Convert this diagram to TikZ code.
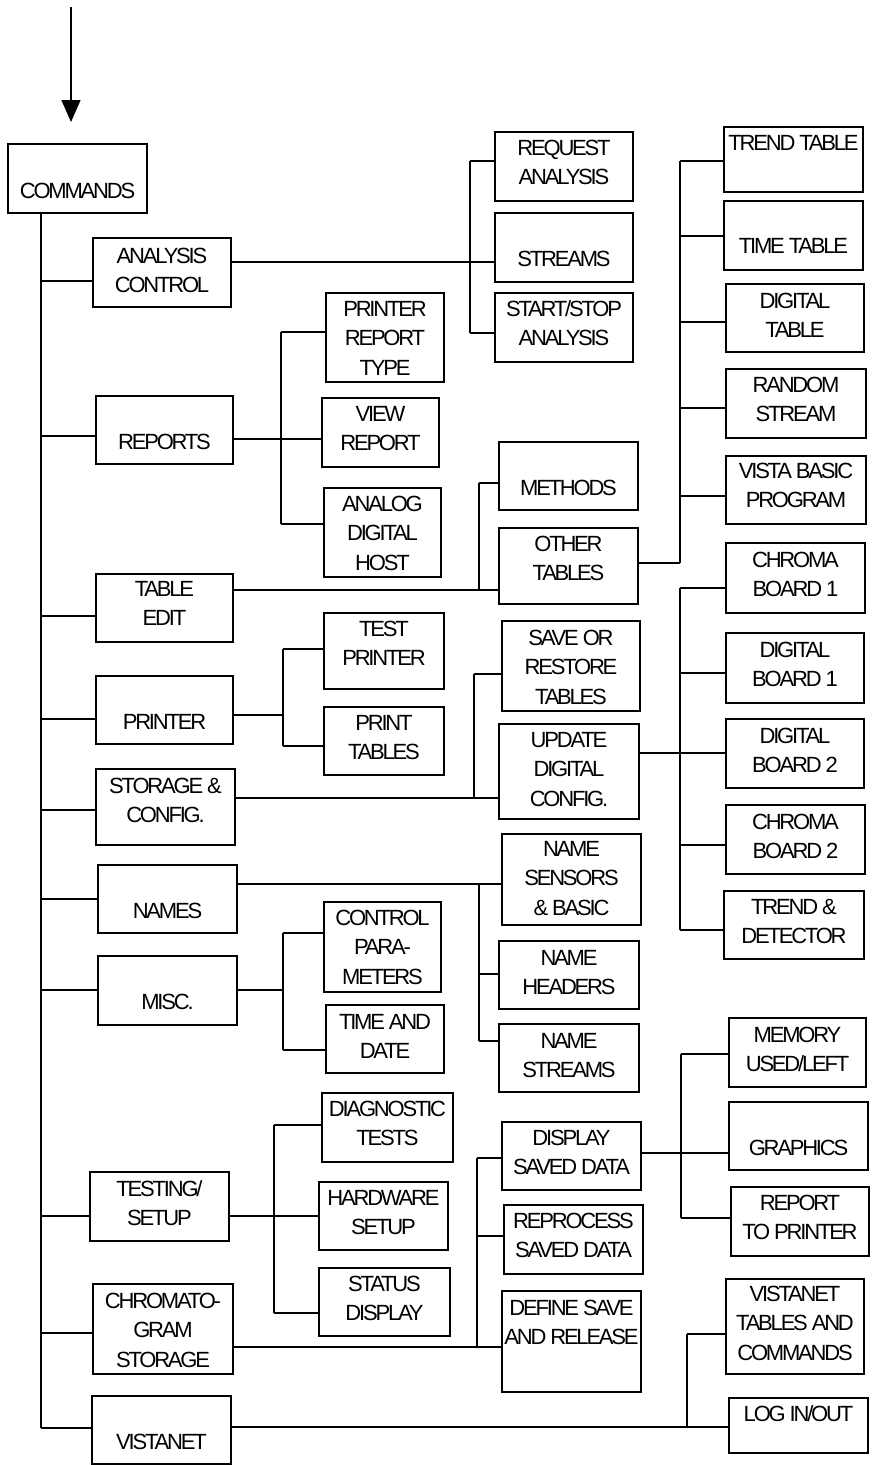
\documentclass[tikz,border=0pt]{standalone}
\usepackage{fontspec}
\setmainfont{Liberation Sans}[LetterSpace=-10]
\usetikzlibrary{fit,arrows.meta}
\tikzset{
  box/.style={draw, line width=1.5pt, inner sep=0pt},
  txt/.style={anchor=base, inner sep=0pt, font=\fontsize{22}{26}\selectfont},
  conn/.style={line width=1.5pt},
}
\newcommand\mybox[7]{%
  \path (#2,#3) coordinate (#1-nw) (#4,#5) coordinate (#1-se);
  \node[box, fit=(#1-nw)(#1-se)] (#1) {};
  \foreach \t [count=\i] in {#7} {
    \node[txt] (#1-l\i) at ({(#2+#4)/2}, {#6+8+(\i-1)*29.5}) {\t};
  }%
}
\newcommand\mytree[6]{%
  \coordinate (#1-vt) at (#2,#4);
  \coordinate (#1-vb) at (#2,#5);
  \coordinate (#1-pj) at (#2,#3);
  \draw[conn] (#1-vt) -- (#1-vb);
  \draw[conn] (#1.east |- #1-pj) -- (#1-pj);
  \foreach \c/\y in {#6} {
    \coordinate (#1-\c-j) at (#2,\y);
    \draw[conn] (#1-\c-j) -- (#1-\c-j -| \c.west);
  }%
}
\begin{document}
\begin{tikzpicture}[x=1pt,y=-1pt]
\useasboundingbox (0,0) rectangle (874,1465);
% level 1
\mybox{cmd}{8}{144}{147}{213}{190}{COMMANDS}
\mybox{ac}{93}{238}{231}{307}{255}{ANALYSIS,CONTROL}
\mybox{rep}{96}{396}{233}{464}{441}{REPORTS}
\mybox{te}{96}{574}{233}{642}{588}{TABLE,EDIT}
\mybox{pr}{96}{676}{233}{744}{721}{PRINTER}
\mybox{sc}{96}{769}{235}{845}{785}{STORAGE \&,CONFIG.}
\mybox{nm}{98}{865}{237}{933}{910}{NAMES}
\mybox{misc}{98}{956}{237}{1025}{1001}{MISC.}
\mybox{ts}{90}{1172}{229}{1241}{1188}{TESTING/,SETUP}
\mybox{cg}{93}{1284}{233}{1374}{1300}{CHROMATO-,GRAM,STORAGE}
\mybox{vn}{92}{1396}{231}{1464}{1441}{VISTANET}
% level 2
\mybox{ra}{495}{132}{633}{201}{147}{REQUEST,ANALYSIS}
\mybox{st}{495}{213}{633}{282}{258}{STREAMS}
\mybox{ss}{495}{293}{633}{362}{308}{START/STOP,ANALYSIS}
\mybox{prt}{326}{293}{444}{382}{308}{PRINTER,REPORT,TYPE}
\mybox{vr}{322}{398}{439}{467}{413}{VIEW,REPORT}
\mybox{adh}{324}{488}{441}{577}{503}{ANALOG,DIGITAL,HOST}
\mybox{meth}{499}{442}{638}{510}{487}{METHODS}
\mybox{ot}{499}{528}{638}{604}{543}{OTHER,TABLES}
\mybox{tp}{324}{613}{444}{689}{628}{TEST,PRINTER}
\mybox{ptab}{324}{707}{444}{775}{722}{PRINT,TABLES}
\mybox{sor}{502}{621}{640}{711}{637}{SAVE OR,RESTORE,TABLES}
\mybox{udc}{499}{724}{639}{819}{739}{UPDATE,DIGITAL,CONFIG.}
\mybox{nsb}{502}{834}{641}{925}{848}{NAME,SENSORS,\& BASIC}
\mybox{nh}{499}{941}{639}{1009}{957}{NAME,HEADERS}
\mybox{ns}{499}{1024}{639}{1092}{1040}{NAME,STREAMS}
\mybox{cp}{324}{902}{441}{992}{917}{CONTROL,PARA-,METERS}
\mybox{tad}{326}{1005}{444}{1073}{1021}{TIME AND,DATE}
\mybox{dt}{322}{1093}{453}{1162}{1108}{DIAGNOSTIC,TESTS}
\mybox{hs}{319}{1182}{448}{1250}{1197}{HARDWARE,SETUP}
\mybox{sd}{319}{1268}{450}{1336}{1283}{STATUS,DISPLAY}
\mybox{dsd}{502}{1122}{641}{1190}{1137}{DISPLAY,SAVED DATA}
\mybox{rsd}{504}{1205}{643}{1274}{1220}{REPROCESS,SAVED DATA}
\mybox{dsr}{502}{1291}{641}{1392}{1307}{DEFINE SAVE,AND RELEASE}
% level 3
\mybox{tt}{724}{127}{863}{192}{142}{TREND TABLE}
\mybox{tit}{724}{201}{863}{270}{245}{TIME TABLE}
\mybox{dtab}{726}{284}{864}{352}{300}{DIGITAL,TABLE}
\mybox{rs}{726}{369}{866}{438}{384}{RANDOM,STREAM}
\mybox{vbp}{726}{456}{866}{524}{470}{VISTA BASIC,PROGRAM}
\mybox{cb1}{726}{543}{865}{613}{559}{CHROMA,BOARD 1}
\mybox{db1}{726}{633}{864}{703}{649}{DIGITAL,BOARD 1}
\mybox{db2}{726}{719}{864}{788}{735}{DIGITAL,BOARD 2}
\mybox{cb2}{726}{805}{865}{874}{821}{CHROMA,BOARD 2}
\mybox{tdet}{724}{891}{864}{959}{906}{TREND \&,DETECTOR}
\mybox{mem}{729}{1018}{866}{1087}{1034}{MEMORY,USED/LEFT}
\mybox{gr}{729}{1102}{868}{1170}{1147}{GRAPHICS}
\mybox{rtp}{731}{1187}{869}{1256}{1202}{REPORT,TO PRINTER}
\mybox{vtc}{726}{1279}{864}{1374}{1293}{VISTANET,TABLES AND,COMMANDS}
\mybox{lio}{729}{1398}{868}{1453}{1413}{LOG IN/OUT}
% entry arrow
\coordinate (start) at (71,7);
\coordinate (tip) at (71,122);
\draw[conn, -{Triangle[width=19pt,length=22pt]}] (start) -- (tip);
% main spine
\coordinate (mainx) at (41,0);
\coordinate (mainbot) at (41,1428);
\draw[conn] (cmd.south -| mainx) -- (mainbot);
\foreach \c/\y in {ac/281,rep/436,te/616,pr/719,sc/810,nm/899,misc/990,ts/1216,cg/1333,vn/1428} {
  \coordinate (m-\c) at (41,\y);
  \draw[conn] (m-\c) -- (m-\c -| \c.west);
}
% branches
\mytree{ac}{470}{262}{161}{333}{ra/161,st/262,ss/333}
\mytree{rep}{281}{439}{332}{524}{prt/332,vr/439,adh/524}
\mytree{te}{479}{590}{483}{590}{meth/483,ot/590}
\mytree{ot}{680}{563}{161}{563}{tt/161,tit/236,dtab/322,rs/408,vbp/496}
\mytree{pr}{283}{715}{649}{746}{tp/649,ptab/746}
\mytree{sc}{474}{798}{674}{798}{sor/674,udc/798}
\mytree{udc}{680}{753}{588}{930}{cb1/588,db1/673,db2/753,cb2/845,tdet/930}
\mytree{nm}{479}{884}{884}{1041}{nsb/884,nh/974,ns/1041}
\mytree{misc}{283}{990}{933}{1050}{cp/933,tad/1050}
\mytree{ts}{274}{1216}{1125}{1313}{dt/1125,hs/1216,sd/1313}
\mytree{cg}{477}{1347}{1158}{1347}{dsd/1158,rsd/1236,dsr/1347}
\mytree{dsd}{681}{1153}{1054}{1218}{mem/1054,gr/1153,rtp/1218}
\mytree{vn}{687}{1427}{1334}{1427}{vtc/1334,lio/1427}
\end{tikzpicture}
\end{document}
